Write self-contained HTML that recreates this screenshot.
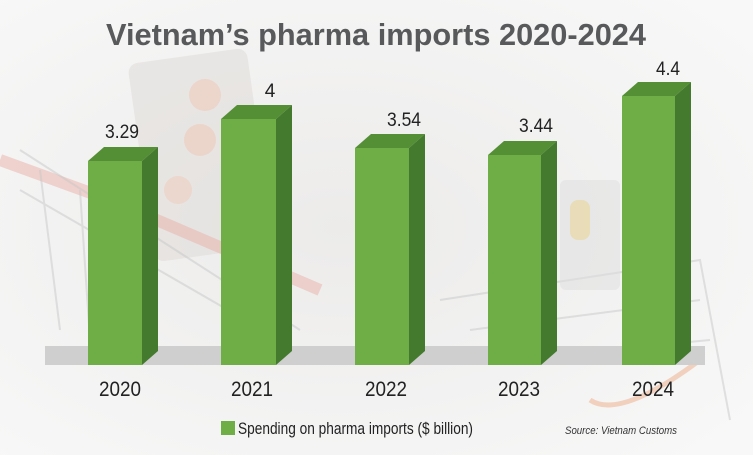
<!DOCTYPE html>
<html><head><meta charset="utf-8"><style>
html,body{margin:0;padding:0;background:#fff}
svg{display:block}
text{font-family:"Liberation Sans",sans-serif}
</style></head><body>
<svg width="753" height="455" viewBox="0 0 753 455" xmlns="http://www.w3.org/2000/svg">
<defs>
<radialGradient id="bg" cx="0.45" cy="0.5" r="0.7">
<stop offset="0" stop-color="#ecebea"/><stop offset="1" stop-color="#f8f8f8"/>
</radialGradient>
</defs>
<rect width="753" height="455" fill="url(#bg)"/>
<rect x="140" y="55" width="120" height="200" rx="10" fill="#dcd6d2" opacity="0.45" transform="rotate(-8 200 150)"/>
<circle cx="205" cy="95" r="16" fill="#efc9b8" opacity="0.55"/>
<circle cx="200" cy="140" r="16" fill="#efc9b8" opacity="0.55"/>
<circle cx="178" cy="190" r="14" fill="#efc9b8" opacity="0.5"/>
<path d="M0 160 L110 200 L320 290" stroke="#e9b0a8" stroke-width="12" fill="none" opacity="0.5"/>
<g stroke="#c8c8c8" stroke-width="2" fill="none" opacity="0.5">
<path d="M20 150 L300 330 M20 190 L280 340 M40 170 L60 330 M80 190 L90 340 M260 250 L250 340"/>
<path d="M440 300 L700 260 L730 420 M470 330 L700 300 M500 360 L710 340"/>
</g>
<rect x="560" y="180" width="60" height="110" rx="6" fill="#ddd" opacity="0.5"/>
<rect x="570" y="200" width="20" height="40" rx="8" fill="#e9d79a" opacity="0.6"/>
<path d="M590 400 Q620 420 700 360" stroke="#efb89a" stroke-width="5" fill="none" opacity="0.6"/>
<rect x="45" y="346" width="660" height="19" fill="#cfcfcf"/>
<text x="376" y="45" text-anchor="middle" font-size="31" font-weight="bold" fill="#58595b" textLength="540" lengthAdjust="spacingAndGlyphs">Vietnam’s pharma imports 2020-2024</text>
<g>
<polygon points="88,161 104,147 158,147 142,161" fill="#548f36"/><polygon points="142,161 158,147 158,351 142,365" fill="#437a2d"/><rect x="88" y="161" width="54" height="204" fill="#6fad47"/>
<polygon points="221,119 237,105 292,105 276,119" fill="#548f36"/><polygon points="276,119 292,105 292,351 276,365" fill="#437a2d"/><rect x="221" y="119" width="55" height="246" fill="#6fad47"/>
<polygon points="355,148 371,134 425,134 409,148" fill="#548f36"/><polygon points="409,148 425,134 425,351 409,365" fill="#437a2d"/><rect x="355" y="148" width="54" height="217" fill="#6fad47"/>
<polygon points="488,155 504,141 557,141 541,155" fill="#548f36"/><polygon points="541,155 557,141 557,351 541,365" fill="#437a2d"/><rect x="488" y="155" width="53" height="210" fill="#6fad47"/>
<polygon points="622,96 638,82 691,82 675,96" fill="#548f36"/><polygon points="675,96 691,82 691,351 675,365" fill="#437a2d"/><rect x="622" y="96" width="53" height="269" fill="#6fad47"/>
</g>
<g font-size="19" fill="#222" text-anchor="middle">
<text x="122" y="138" textLength="34" lengthAdjust="spacingAndGlyphs">3.29</text>
<text x="270" y="97">4</text>
<text x="404" y="126" textLength="34" lengthAdjust="spacingAndGlyphs">3.54</text>
<text x="536" y="132" textLength="34" lengthAdjust="spacingAndGlyphs">3.44</text>
<text x="668" y="75" textLength="24" lengthAdjust="spacingAndGlyphs">4.4</text>
</g>
<g font-size="21" fill="#222" text-anchor="middle">
<text x="120" y="396" textLength="42" lengthAdjust="spacingAndGlyphs">2020</text>
<text x="252" y="396" textLength="42" lengthAdjust="spacingAndGlyphs">2021</text>
<text x="386" y="396" textLength="42" lengthAdjust="spacingAndGlyphs">2022</text>
<text x="519" y="396" textLength="42" lengthAdjust="spacingAndGlyphs">2023</text>
<text x="653" y="396" textLength="42" lengthAdjust="spacingAndGlyphs">2024</text>
</g>
<rect x="221" y="421" width="14" height="14" fill="#6fad47"/>
<text x="238" y="434" font-size="17" fill="#222" textLength="235" lengthAdjust="spacingAndGlyphs">Spending on pharma imports ($ billion)</text>
<text x="565" y="434" font-size="11" font-style="italic" fill="#333" textLength="112" lengthAdjust="spacingAndGlyphs">Source: Vietnam Customs</text>
</svg>
</body></html>
